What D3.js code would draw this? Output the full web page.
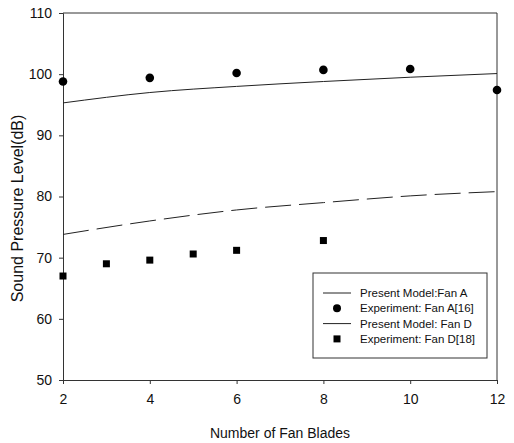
<!DOCTYPE html>
<html>
<head>
<meta charset="utf-8">
<script src="https://cdn.jsdelivr.net/npm/d3@7"></script>
<style>
  body { margin: 0; background: #fff; }
  text { font-family: "Liberation Sans", Arial, sans-serif; fill: #111; }
</style>
</head>
<body>
<div id="chart"></div>
<script>
// model curves (x = number of blades)
const modelX = [2, 4, 6, 8, 10, 12];
const modelA = [95.3, 97.0, 98.0, 98.8, 99.5, 100.1];
const modelD = [73.8, 76.0, 77.8, 79.0, 80.1, 80.8];

// experimental points
const expAX = [2, 4, 6, 8, 10, 12];
const expA = [98.8, 99.4, 100.2, 100.7, 100.85, 97.4];
const expDX = [2, 3, 4, 5, 6, 8];
const expD = [67.0, 69.0, 69.6, 70.6, 71.2, 72.8];

const xTicks = [2, 4, 6, 8, 10, 12];
const yTicks = [50, 60, 70, 80, 90, 100, 110];

const legendLabels = ["Present Model:Fan A", "Experiment: Fan A[16]", "Present Model: Fan D", "Experiment: Fan D[18]"];

const width = 514, height = 443;
const margin = {top: 13, right: 17, bottom: 63, left: 63};
const w = width - margin.left - margin.right;
const h = height - margin.top - margin.bottom;

const svg = d3.select("#chart")
    .append("svg")
    .attr("width", width)
    .attr("height", height);

const g = svg.append("g")
    .attr("transform", "translate(" + margin.left + "," + margin.top + ")");

const x = d3.scaleLinear().domain([2, 12]).range([0, w]);
const y = d3.scaleLinear().domain([50, 110]).range([h, 0]);

// frame (top + right)
g.append("line").attr("x1", 0).attr("x2", w).attr("y1", 0).attr("y2", 0)
    .attr("stroke", "#333").attr("stroke-width", 1);
g.append("line").attr("x1", w).attr("x2", w).attr("y1", 0).attr("y2", h)
    .attr("stroke", "#333").attr("stroke-width", 1);

const xAxis = g.append("g")
    .attr("transform", "translate(0," + h + ")")
    .call(d3.axisBottom(x).tickValues(xTicks).tickSize(4).tickPadding(10));
xAxis.selectAll("text").style("font-size", "14px");

const yAxis = g.append("g")
    .call(d3.axisLeft(y).tickValues(yTicks).tickSize(4).tickPadding(7));
yAxis.selectAll("text").style("font-size", "14px");

g.selectAll(".domain").attr("stroke", "#333");
g.selectAll(".tick line").attr("stroke", "#333");

svg.append("text")
    .attr("x", margin.left + w / 2)
    .attr("y", 438)
    .attr("text-anchor", "middle")
    .style("font-size", "14px")
    .text("Number of Fan Blades");

svg.append("text")
    .attr("transform", "translate(23," + (margin.top + h / 2 + 12) + ") rotate(-90)")
    .attr("text-anchor", "middle")
    .style("font-size", "16px")
    .text("Sound Pressure Level(dB)");

const line = d3.line()
    .x(d => x(d[0]))
    .y(d => y(d[1]))
    .curve(d3.curveMonotoneX);

g.append("path")
    .datum(modelX.map((v, i) => [v, modelA[i]]))
    .attr("d", line)
    .attr("fill", "none")
    .attr("stroke", "#222")
    .attr("stroke-width", 1);

g.append("path")
    .datum(modelX.map((v, i) => [v, modelD[i]]))
    .attr("d", line)
    .attr("fill", "none")
    .attr("stroke", "#222")
    .attr("stroke-width", 1)
    .attr("stroke-dasharray", "26,8");

g.selectAll("circle.expA")
    .data(expAX.map((v, i) => [v, expA[i]]))
    .join("circle")
        .attr("class", "expA")
        .attr("cx", d => x(d[0]))
        .attr("cy", d => y(d[1]))
        .attr("r", 4.3)
        .attr("fill", "#000");

g.selectAll("rect.expD")
    .data(expDX.map((v, i) => [v, expD[i]]))
    .join("rect")
        .attr("class", "expD")
        .attr("x", d => x(d[0]) - 3.5)
        .attr("y", d => y(d[1]) - 3.5)
        .attr("width", 7)
        .attr("height", 7)
        .attr("fill", "#000");

// legend
const legend = svg.append("g").attr("transform", "translate(313,273)");
legend.append("rect")
    .attr("width", 174).attr("height", 85)
    .attr("fill", "#fff")
    .attr("stroke", "#333").attr("stroke-width", 1);

const rows = legend.selectAll("g.row")
    .data(legendLabels)
    .join("g")
        .attr("class", "row")
        .attr("transform", (d, i) => "translate(0," + (20 + i * 15.3) + ")");

rows.append("text")
    .attr("x", 47)
    .attr("y", 4)
    .style("font-size", "11.5px")
    .text(d => d);

rows.filter((d, i) => i === 0 || i === 2)
    .append("line")
    .attr("x1", 10).attr("x2", 38)
    .attr("stroke", "#222").attr("stroke-width", 1);

rows.filter((d, i) => i === 1)
    .append("circle")
    .attr("cx", 24).attr("r", 4).attr("fill", "#000");

rows.filter((d, i) => i === 3)
    .append("rect")
    .attr("x", 20.5).attr("y", -3.5).attr("width", 7).attr("height", 7).attr("fill", "#000");
</script>
</body>
</html>
